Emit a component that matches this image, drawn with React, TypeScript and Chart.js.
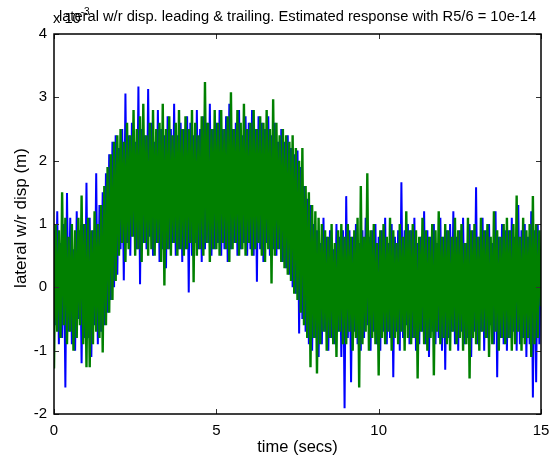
import React, { useEffect, useRef } from "react";
import { Chart, registerables } from "chart.js";

Chart.register(...registerables);

// sampling interval of the recorded signals (seconds)
const SAMPLE_STEP = 0.05;

// lateral w/r displacement, leading wheelset (x 10^-3 m), one value per sample
const leadingDisp = [
  0.9, -0.6, 1.2, -0.9, 0.7, -0.8, 1.0, -1.58, 1.49, -0.7, 1.1, -0.9, 0.6, -1.0, 1.2, -0.5, 0.9, -1.2, 1.0, -0.8,
  1.65, -0.8, 1.1, -1.1, 0.9, -0.6, 1.8, -0.9, 1.3, -0.7, 1.5, -0.6, 1.8, -0.4, 2.1, -0.2, 2.3, 0.0, 2.4, 0.2,
  2.2, 0.6, 2.5, 0.11, 3.06, 0.7, 2.4, 0.5, 2.6, 0.8, 2.3, 0.6, 3.17, 0.05, 2.5, 0.7, 2.4, 0.6, 3.13, 0.8,
  2.6, 0.5, 2.3, 0.7, 2.8, 0.4, 2.5, 0.6, 2.4, 0.3, 2.7, 0.6, 2.5, 0.7, 2.9, 0.5, 2.4, 0.6, 2.6, 0.4,
  2.5, 0.6, 2.7, -0.08, 2.6, 0.5, 2.4, 0.7, 2.8, 0.6, 2.5, 0.4, 2.7, 0.6, 2.6, 0.7, 2.9, 0.5, 2.5, 0.6,
  2.6, 0.7, 2.8, 0.5, 2.5, 0.6, 2.7, 0.4, 2.9, 0.6, 2.5, 0.7, 2.6, 0.5, 2.8, 0.6, 2.4, 0.7, 2.7, 0.5,
  2.6, 0.6, 2.8, 0.5, 2.5, 0.09, 2.7, 0.6, 2.6, 0.4, 2.5, 0.7, 2.7, 0.5, 2.4, 0.6, 2.6, 0.5, 2.3, 0.6,
  2.5, 0.4, 2.3, 0.3, 2.4, 0.2, 2.2, 0.0, 2.1, -0.1, 2.16, -0.73, 1.9, -0.5, 1.6, -0.7, 1.4, -0.9, 1.3, -1.0,
  1.0, -0.8, 0.9, -1.1, 0.7, -0.9, 1.1, -0.7, 0.8, -1.0, 0.9, -0.8, 0.6, -0.9, 1.0, -0.7, 0.8, -1.1, 0.9, -1.91,
  1.44, -0.8, 0.9, -1.5, 0.8, -0.7, 1.0, -0.9, 0.7, -1.0, 0.9, -0.8, 1.1, -0.6, 0.8, -1.0, 0.9, -0.7, 1.0, -0.9,
  0.8, -1.0, 0.9, -0.7, 1.1, -0.9, 0.7, -0.8, 1.0, -1.42, 0.8, -0.7, 0.9, -1.0, 1.66, -0.8, 0.9, -0.6, 1.0, -0.9,
  0.9, -0.8, 1.1, -1.0, 0.7, -0.9, 0.8, -0.7, 1.2, -0.9, 0.9, -1.1, 0.8, -0.7, 1.0, -0.9, 0.7, -0.8, 1.1, -1.0,
  0.8, -1.3, 0.9, -0.8, 1.0, -0.7, 1.2, -0.9, 0.8, -1.0, 0.9, -0.7, 1.1, -0.9, 0.7, -0.8, 1.0, -1.1, 0.9, -0.7,
  1.58, -0.9, 0.8, -0.7, 1.1, -1.0, 0.9, -0.8, 1.0, -0.6, 0.7, -0.9, 1.2, -1.42, 0.8, -0.8, 1.0, -0.9, 0.9, -1.0,
  0.9, -0.8, 1.1, -0.7, 0.8, -1.0, 1.3, -0.9, 0.9, -0.8, 1.0, -1.1, 0.8, -0.9, 1.2, -1.74, 0.9, -1.5, 1.0, -0.9, 0.6,
];

// lateral w/r displacement, trailing wheelset (x 10^-3 m), one value per sample
const trailingDisp = [
  -1.28, 1.0, -0.7, 0.9, -0.8, 1.5, -0.6, 1.1, -0.9, 0.8, -0.7, 1.0, -1.0, 0.9, -0.8, 1.1, -0.6, 1.45, -0.9, 1.0,
  -1.26, 1.1, -1.26, 0.9, -0.9, 1.2, -0.7, 1.0, -0.8, 1.3, -1.03, 1.6, -0.6, 1.9, -0.4, 2.1, -0.2, 2.3, 0.1, 2.4,
  0.5, 2.5, 0.7, 2.3, 0.4, 2.6, 0.6, 2.4, 0.8, 2.8, 0.5, 2.5, 0.6, 2.7, 0.4, 2.9, 0.7, 2.4, 0.5, 2.6,
  0.6, 2.8, 0.5, 2.5, 0.7, 2.6, 0.4, 2.9, 0.03, 2.5, 0.6, 2.7, 0.5, 2.4, 0.7, 2.6, 0.5, 2.8, 0.6, 2.5,
  0.5, 2.7, 0.6, 2.5, 0.7, 2.8, 0.08, 2.6, 0.5, 2.4, 0.6, 2.7, 0.5, 3.24, 0.7, 2.6, 0.4, 2.5, 0.6, 2.8,
  0.6, 2.6, 0.5, 2.8, 0.7, 2.5, 0.6, 2.7, 0.4, 3.08, 0.6, 2.5, 0.7, 2.8, 0.5, 2.6, 0.6, 2.9, 0.5, 2.5,
  0.7, 2.6, 0.5, 2.8, 0.6, 2.5, 0.7, 2.7, 0.5, 2.6, 0.4, 2.8, 0.6, 2.5, 0.06, 2.97, 0.5, 2.6, 0.6, 2.4,
  0.4, 2.5, 0.3, 2.4, 0.2, 2.3, 0.1, 2.4, -0.1, 2.2, -0.2, 2.0, -0.4, 2.2, -0.6, 1.6, -0.8, 1.5, -1.26, 1.3,
  -0.8, 1.2, -1.36, 1.1, -0.9, 1.0, -0.7, 0.9, -1.0, 0.8, -0.8, 1.0, -0.9, 0.7, -1.1, 0.9, -0.7, 1.0, -0.9, 0.8,
  -0.9, 1.0, -0.7, 0.8, -1.0, 0.9, -0.8, 1.1, -1.58, 1.6, -0.9, 0.8, -0.7, 1.8, -1.0, 0.9, -0.8, 1.0, -0.9, 0.7,
  -1.39, 0.9, -0.8, 1.0, -0.9, 0.8, -0.7, 1.1, -1.0, 0.9, -0.8, 0.7, -0.9, 1.0, -0.7, 0.8, -1.0, 1.2, -0.8, 0.9,
  -0.9, 1.0, -0.8, 0.9, -1.44, 0.8, -0.7, 1.1, -0.9, 0.9, -1.0, 0.8, -0.8, 1.0, -1.39, 0.9, -0.7, 1.2, -0.9, 0.8,
  -0.8, 1.0, -0.9, 0.9, -1.0, 0.8, -0.7, 1.1, -0.9, 0.9, -0.8, 1.0, -1.0, 0.7, -0.9, 1.1, -1.44, 0.9, -0.8, 1.0,
  -0.9, 0.8, -1.0, 1.1, -0.7, 0.9, -0.8, 1.0, -1.1, 0.8, -0.9, 1.2, -0.7, 0.9, -1.0, 0.8, -0.8, 1.0, -0.9, 1.1,
  -0.8, 0.9, -1.0, 1.0, -0.9, 1.45, -0.7, 0.8, -1.0, 1.1, -0.9, 0.9, -0.8, 1.0, -1.1, 1.44, -0.9, 1.0, -0.8, 0.9, -0.3,
];

const xTickValues = [0, 5, 10, 15];
const yTickValues = [-2, -1, 0, 1, 2, 3, 4];

const titleText = "lateral w/r disp. leading & trailing. Estimated response with R5/6 = 10e-14";
const xLabel = "time (secs)";
const yLabel = "lateral w/r disp (m)";
const multiplierBase = "x 10";
const multiplierExp = "-3";

const FONT = "Liberation Sans, Arial, Helvetica, sans-serif";
const W = 549;
const H = 459;

const toPoints = (vals: number[]) => vals.map((v, i) => ({ x: i * SAMPLE_STEP, y: v }));

const decorPlugin = {
  id: "matlabDecor",
  afterDraw(chart: any) {
    const { ctx, chartArea } = chart;
    const { left, right, top, bottom } = chartArea;
    const xs = chart.scales.x;
    const ys = chart.scales.y;
    ctx.save();
    // ticks inside the box on all four sides
    ctx.strokeStyle = "#333";
    ctx.lineWidth = 1;
    const tl = 5;
    ctx.beginPath();
    for (const v of xTickValues) {
      const px = Math.round(xs.getPixelForValue(v)) + 0.5;
      ctx.moveTo(px, bottom);
      ctx.lineTo(px, bottom - tl);
      ctx.moveTo(px, top);
      ctx.lineTo(px, top + tl);
    }
    for (const v of yTickValues) {
      const py = Math.round(ys.getPixelForValue(v)) + 0.5;
      ctx.moveTo(left, py);
      ctx.lineTo(left + tl, py);
      ctx.moveTo(right, py);
      ctx.lineTo(right - tl, py);
    }
    ctx.stroke();
    // box
    ctx.strokeStyle = "#000";
    ctx.lineWidth = 1.5;
    ctx.strokeRect(left, top, right - left, bottom - top);

    // texts
    ctx.fillStyle = "#000";
    ctx.textBaseline = "alphabetic";
    ctx.font = `14.7px ${FONT}`;
    ctx.textAlign = "center";
    ctx.fillText(titleText, (left + right) / 2, 21);

    ctx.font = `16.5px ${FONT}`;
    ctx.fillText(xLabel, (left + right) / 2, 452);

    ctx.textAlign = "left";
    ctx.font = `14.7px ${FONT}`;
    ctx.fillText(multiplierBase, left - 1, 23);
    const bw = ctx.measureText(multiplierBase).width;
    ctx.font = `10px ${FONT}`;
    ctx.fillText(multiplierExp, left - 1 + bw, 15);

    ctx.font = `17px ${FONT}`;
    ctx.translate(21, 218);
    ctx.rotate(-Math.PI / 2);
    ctx.textAlign = "center";
    ctx.textBaseline = "middle";
    ctx.fillText(yLabel, 0, 0);
    ctx.restore();
  },
};

export default function App() {
  const ref = useRef<HTMLCanvasElement | null>(null);

  useEffect(() => {
    if (!ref.current) return;
    const chart = new Chart(ref.current, {
      type: "line",
      data: {
        datasets: [
          {
            label: "trailing",
            data: toPoints(trailingDisp),
            borderColor: "#008000",
            borderWidth: 2.4,
            pointRadius: 0,
            tension: 0,
            order: 0,
          },
          {
            label: "leading",
            data: toPoints(leadingDisp),
            borderColor: "#0000ff",
            borderWidth: 2,
            pointRadius: 0,
            tension: 0,
            order: 1,
          },
        ],
      },
      options: {
        animation: false,
        responsive: false,
        devicePixelRatio: 1,
        parsing: false,
        normalized: true,
        layout: { padding: { left: 0, right: 8, top: 34, bottom: 0 }, autoPadding: false },
        plugins: {
          legend: { display: false },
          title: { display: false },
          tooltip: { enabled: false },
        },
        scales: {
          x: {
            type: "linear",
            min: 0,
            max: 15,
            grid: { display: false, drawTicks: false },
            border: { display: false },
            afterBuildTicks: (s: any) => {
              s.ticks = xTickValues.map((v) => ({ value: v }));
            },
            afterFit: (s: any) => {
              s.height = 45;
              s.paddingLeft = 0;
              s.paddingRight = 0;
            },
            ticks: {
              color: "#000",
              font: { family: FONT, size: 15 },
              padding: 8,
              maxRotation: 0,
              autoSkip: false,
              callback: (v: any) => String(v),
            },
          },
          y: {
            type: "linear",
            min: -2,
            max: 4,
            grid: { display: false, drawTicks: false },
            border: { display: false },
            afterBuildTicks: (s: any) => {
              s.ticks = yTickValues.map((v) => ({ value: v }));
            },
            afterFit: (s: any) => {
              s.width = 54;
              s.paddingTop = 0;
              s.paddingBottom = 0;
            },
            ticks: {
              color: "#000",
              font: { family: FONT, size: 15 },
              padding: 7,
              autoSkip: false,
              callback: (v: any) => String(v),
            },
          },
        },
      },
      plugins: [decorPlugin],
    });
    return () => chart.destroy();
  }, []);

  return (
    <div style={{ position: "absolute", left: 0, top: 0, width: W, height: H, background: "#fff" }}>
      <canvas ref={ref} width={W} height={H} style={{ display: "block", width: W, height: H }} />
    </div>
  );
}
